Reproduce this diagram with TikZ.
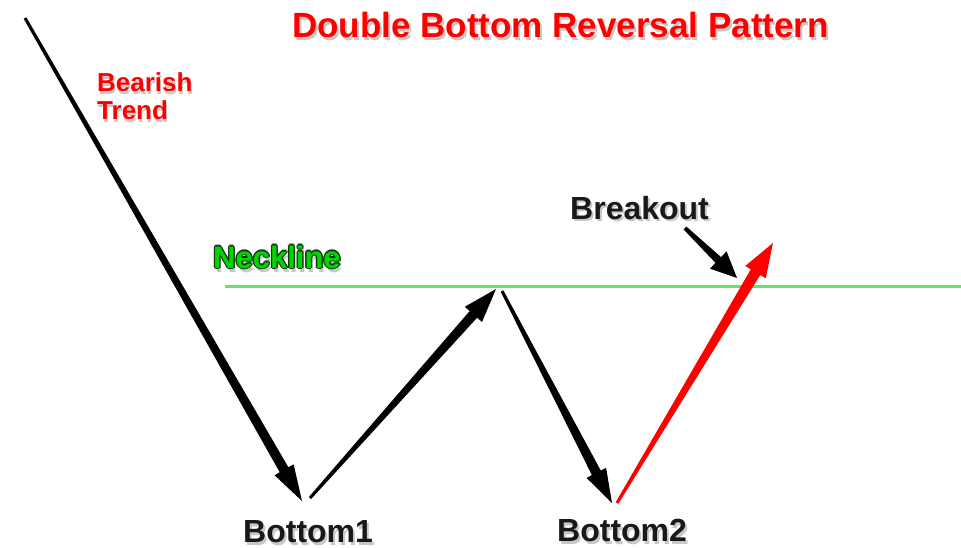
\documentclass[tikz,border=0pt]{standalone}
\usepackage{fontspec}
\setmainfont{Liberation Sans}
\usetikzlibrary{calc}
\definecolor{neck}{RGB}{102,230,102}
\definecolor{necktxt}{RGB}{0,215,0}
\definecolor{neckedge}{RGB}{20,60,20}
\definecolor{shade}{RGB}{200,200,200}
\definecolor{ink}{RGB}{25,25,25}
% tapered arrow: #1 start, #2 tip, #3 start half-width, #4 end half-width, #5 head half-width, #6 head length, #7 colour
\newcommand\taper[7]{%
  \coordinate (tpbase) at ($(#2)!#6!(#1)$);
  \fill[#7] ($(#1)!#3!90:(#2)$) -- ($(tpbase)!#4!90:(#2)$) -- ($(tpbase)!#5!90:(#2)$)
    -- (#2) -- ($(tpbase)!#5!-90:(#2)$) -- ($(tpbase)!#4!-90:(#2)$) -- ($(#1)!#3!-90:(#2)$) -- cycle;
}
\tikzset{
  lbl/.style={inner sep=0pt, anchor=base west, font=\bfseries\fontsize{#1}{#1}\selectfont},
  shadowlbl/.style={lbl=#1, text=shade},
}
\begin{document}
\begin{tikzpicture}[x=1pt,y=-1pt]
\useasboundingbox[fill=white] (0,0) rectangle (961,548);
% neckline
\coordinate (nl1) at (225,286);
\coordinate (nl2) at (961,286);
\draw[neck, line width=3pt] (nl1) -- (nl2);
% arrow points
\coordinate (a0) at (25,18);
\coordinate (a1) at (302,501);
\coordinate (b0) at (310,498);
\coordinate (b1) at (496,289);
\coordinate (c0) at (502,291);
\coordinate (c1) at (612,503);
\coordinate (r0) at (617,503);
\coordinate (r1) at (773,243);
\coordinate (k0) at (685,228);
\coordinate (k1) at (737,278);
\taper{a0}{a1}{1.5pt}{5pt}{11pt}{36pt}{black}
\taper{b0}{b1}{1.5pt}{5pt}{11.5pt}{34pt}{black}
\taper{c0}{c1}{1.5pt}{5pt}{11pt}{34pt}{black}
\taper{r0}{r1}{1.5pt}{5.5pt}{12pt}{34pt}{red}
\taper{k0}{k1}{2pt}{4pt}{12pt}{26pt}{black}
% title
\node[shadowlbl=35] (titlesh) at (294,41) {Double Bottom Reversal Pattern};
\node[lbl=35, text=red] (title) at (292,38) {Double Bottom Reversal Pattern};
% bearish trend
\node[shadowlbl=26] (bear1sh) at (98,95) {Bearish};
\node[lbl=26, text=red] (bear1) at (97,92) {Bearish};
\node[shadowlbl=26] (bear2sh) at (98,123) {Trend};
\node[lbl=26, text=red] (bear2) at (97,120) {Trend};
% neckline label
\node[shadowlbl=31] (necksh) at (215,272) {Neckline};
\foreach \dx/\dy in {-1.3/0,1.3/0,0/-1.3,0/1.3,-1/-1,1/1,-1/1,1/-1}{
  \node[lbl=31, text=neckedge] at ($(213,268)+(\dx,\dy)$) {Neckline};
}
\node[lbl=31, text=necktxt] (neck) at (213,268) {Neckline};
% breakout
\node[shadowlbl=32] (brksh) at (572,222) {Breakout};
\node[lbl=32, text=ink] (brk) at (570,219) {Breakout};
% bottoms
\node[shadowlbl=32] (bot1sh) at (245,545) {Bottom1};
\node[lbl=32, text=ink] (bot1) at (243,542) {Bottom1};
\node[shadowlbl=32] (bot2sh) at (559,544) {Bottom2};
\node[lbl=32, text=ink] (bot2) at (557,541) {Bottom2};
\end{tikzpicture}
\end{document}
